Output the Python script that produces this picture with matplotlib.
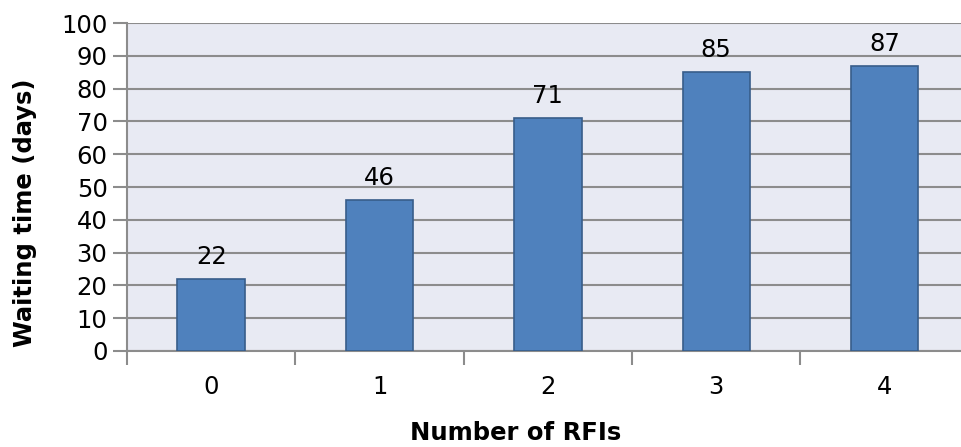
import matplotlib
matplotlib.use("Agg")
import matplotlib.pyplot as plt
import numpy as np

rfis = ["0", "1", "2", "3", "4"]
waiting_days = [22, 46, 71, 85, 87]

grid_col = "#8c8c8c"

fig = plt.figure(figsize=(9.62, 4.47), dpi=100)
ax = fig.add_axes([0.132, 0.2148, 0.868, 0.7337])
ax.set_facecolor("#e8eaf3")

x = np.arange(len(rfis))
bars = ax.bar(x, waiting_days, width=0.40, color="#4f81bd", edgecolor="#385d8a",
              linewidth=1.2, zorder=3)
for xi, v in zip(x, waiting_days):
    ax.text(xi, v + 3, str(v), ha="center", va="bottom", fontsize=17.5, zorder=4)

ax.set_ylim(0, 100)
ax.set_yticks(range(0, 101, 10))
ax.set_xlim(-0.5, 4.46)
ax.set_xticks(x)
ax.set_xticklabels(rfis)
ax.set_xticks(np.arange(-0.5, 4.5, 1), minor=True)

ax.yaxis.grid(True, color=grid_col, linewidth=1.5, zorder=0)
ax.tick_params(axis="y", length=10, width=1.5, color=grid_col, labelsize=17.5, pad=4)
ax.tick_params(axis="x", which="major", length=0, labelsize=17.5, pad=17)
ax.tick_params(axis="x", which="minor", length=10, width=1.5, color=grid_col)

for side in ["top", "right"]:
    ax.spines[side].set_visible(False)
for side in ["left", "bottom"]:
    ax.spines[side].set_color(grid_col)
    ax.spines[side].set_linewidth(1.5)

ax.set_xlabel("Number of RFIs", fontsize=17.5, fontweight="bold", va="center")
ax.xaxis.set_label_coords(0.466, -0.25)
ax.set_ylabel("Waiting time (days)", fontsize=17.5, fontweight="bold", va="center")
ax.yaxis.set_label_coords(-0.122, 0.42)

fig.savefig("out.png", dpi=100)
